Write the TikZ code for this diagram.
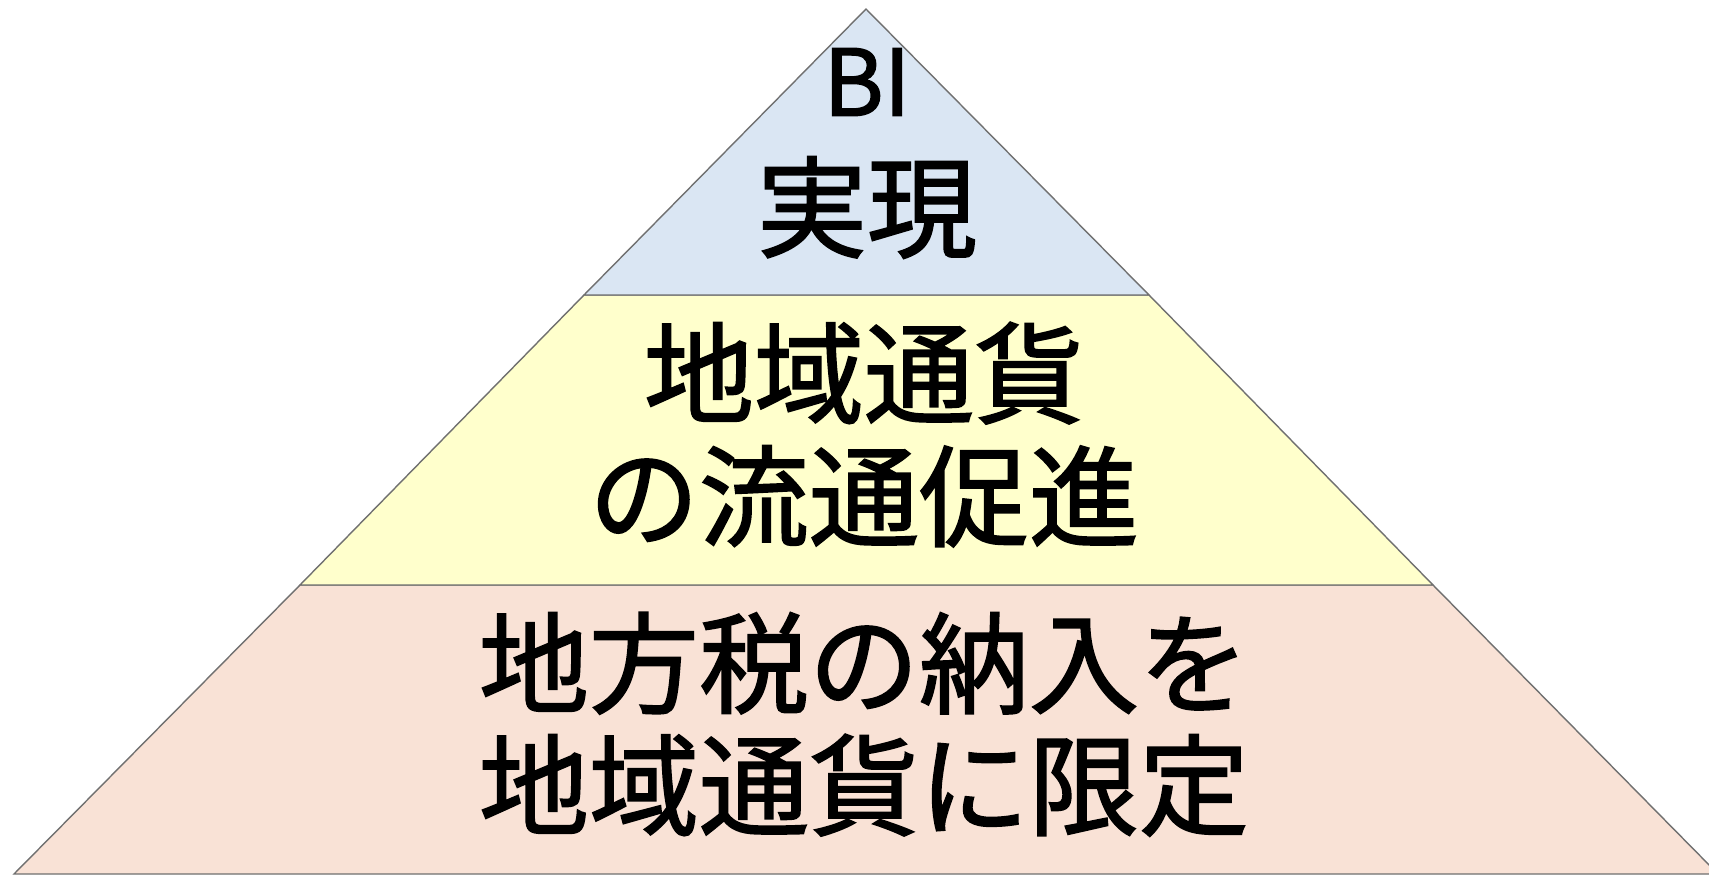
\documentclass[tikz,border=0pt]{standalone}
\usepackage{fontspec}
\newfontfamily\jp[FakeBold=1.6]{Noto Sans CJK JP}
\definecolor{lblue}{HTML}{DAE6F3}
\definecolor{lyellow}{HTML}{FFFFCC}
\definecolor{lpink}{HTML}{F9E2D6}
\definecolor{edge}{HTML}{707070}
\tikzset{
  layer/.style={draw=edge, line width=1.4pt, line join=miter},
  jtxt/.style={font=\jp\fontsize{110}{120}\selectfont, inner sep=0pt, anchor=base},
  btxt/.style={font=\jp\fontsize{92}{100}\selectfont, inner sep=0pt, anchor=center}
}
\begin{document}
\begin{tikzpicture}[x=1pt,y=-1pt]
\useasboundingbox (0,0) rectangle (1709,876);
\clip (0,0) rectangle (1709,876);
\fill[white] (0,0) rectangle (1709,876);
\coordinate (apex) at (866,9);
\coordinate (l1) at (584,295);
\coordinate (r1) at (1149,295);
\coordinate (l2) at (300,585);
\coordinate (r2) at (1433,585);
\coordinate (l3) at (14,874);
\coordinate (r3) at (1718,874);
\filldraw[layer, fill=lpink] (l2) -- (r2) -- (r3) -- (l3) -- cycle;
\filldraw[layer, fill=lyellow] (l1) -- (r1) -- (r2) -- (l2) -- cycle;
\filldraw[layer, fill=lblue] (apex) -- (r1) -- (l1) -- cycle;
\node[btxt] (t1) at (867,82) {BI};
\node[jtxt] (t2) at (867,249) {実現};
\node[jtxt] (t3) at (864,415) {地域通貨};
\node[jtxt] (t4) at (864,538) {の流通促進};
\node[jtxt] (t5) at (864,705) {地方税の納入を};
\node[jtxt] (t6) at (864,827) {地域通貨に限定};
\end{tikzpicture}
\end{document}
